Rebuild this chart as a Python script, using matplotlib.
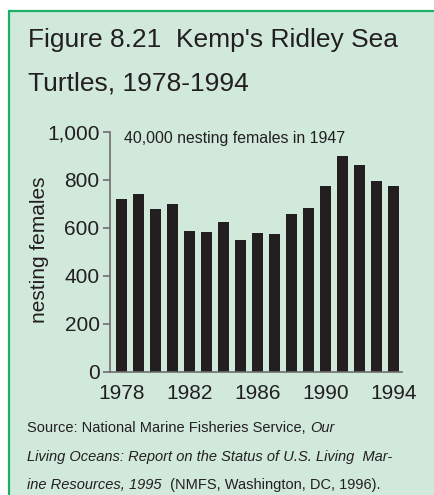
import matplotlib
matplotlib.use("Agg")
import matplotlib.pyplot as plt
from matplotlib.patches import Rectangle

years = list(range(1978, 1995))
females = [718, 742, 676, 698, 586, 582, 622, 549, 579, 575, 657, 683, 772, 899, 860, 796, 772]
xtick_years = [1978, 1982, 1986, 1990, 1994]
yticks = [0, 200, 400, 600, 800, 1000]
ytick_labels = ["0", "200", "400", "600", "800", "1,000"]

W, H = 434, 495
plt.rcParams['font.family'] = ['Liberation Sans', 'DejaVu Sans']
fig = plt.figure(figsize=(W / 100, H / 100), dpi=100)
fig.patch.set_facecolor("white")

bg = "#D0E9DB"
green = "#1BAF67"
dark = "#231F20"
grey = "#6d6d6d"

fig.patches.append(Rectangle((8.5 / W, -0.1), 1.2, 1 - 10.5 / H + 0.1,
                             transform=fig.transFigure, facecolor=bg,
                             edgecolor=green, linewidth=1.6, zorder=-5))

ax = fig.add_axes([110 / W, 1 - 371.7 / H, (401.7 - 110) / W, 240 / H])
ax.set_zorder(3)
ax.set_facecolor("none")
x = [y - 1978 for y in years]
ax.bar(x, females, width=0.64, color=dark, zorder=2)
ax.set_xlim(-0.69, 16.5)
ax.set_ylim(0, 1000)
ax.set_xticks([y - 1978 for y in xtick_years])
ax.set_xticklabels([str(y) for y in xtick_years])
ax.set_yticks(yticks)
ax.set_yticklabels(ytick_labels)
for s in ["top", "right"]:
    ax.spines[s].set_visible(False)
for s in ["left", "bottom"]:
    ax.spines[s].set_color(grey)
    ax.spines[s].set_linewidth(1.2)
ax.tick_params(axis="y", length=5, width=1.2, color=grey, pad=2.5,
               labelsize=15, labelcolor=dark)
ax.tick_params(axis="x", length=0, pad=9, labelsize=15, labelcolor=dark)

fig.text(124 / W, 1 - 138 / H, "40,000 nesting females in 1947",
         fontsize=11.4, color=dark, va="center", ha="left", zorder=4)

fig.text(40 / W, 1 - 250 / H, "nesting females", rotation=90, fontsize=15,
         color=dark, ha="center", va="center")

fig.text(28 / W, 1 - 46.7 / H, "Figure 8.21  Kemp's Ridley Sea", fontsize=19,
         color=dark, ha="left", va="baseline")
fig.text(28 / W, 1 - 90 / H, "Turtles, 1978-1994", fontsize=19,
         color=dark, ha="left", va="baseline")

src_x = 27 / W
fig.text(src_x, 1 - 432 / H, "Source: National Marine Fisheries Service, ",
         fontsize=10.5, color=dark, ha="left", va="baseline")
t1 = fig.text(0, 0, "Source: National Marine Fisheries Service, ", fontsize=10.5, alpha=0)
fig.canvas.draw()
bb = t1.get_window_extent()
t1.remove()
fig.text(src_x + bb.width / W, 1 - 432 / H, "Our", fontsize=10.5, style="italic",
         color=dark, ha="left", va="baseline")
fig.text(src_x, 1 - 461 / H, "Living Oceans: Report on the Status of U.S. Living  Mar-",
         fontsize=10.5, style="italic", color=dark, ha="left", va="baseline")
t2 = fig.text(0, 0, "ine Resources, 1995 ", fontsize=10.5, style="italic", alpha=0)
fig.canvas.draw()
bb2 = t2.get_window_extent()
t2.remove()
fig.text(src_x, 1 - 489 / H, "ine Resources, 1995 ", fontsize=10.5, style="italic",
         color=dark, ha="left", va="baseline")
fig.text(src_x + bb2.width / W, 1 - 489 / H, " (NMFS, Washington, DC, 1996).",
         fontsize=10.5, color=dark, ha="left", va="baseline")

fig.savefig("out.png", dpi=100, facecolor=fig.get_facecolor())
